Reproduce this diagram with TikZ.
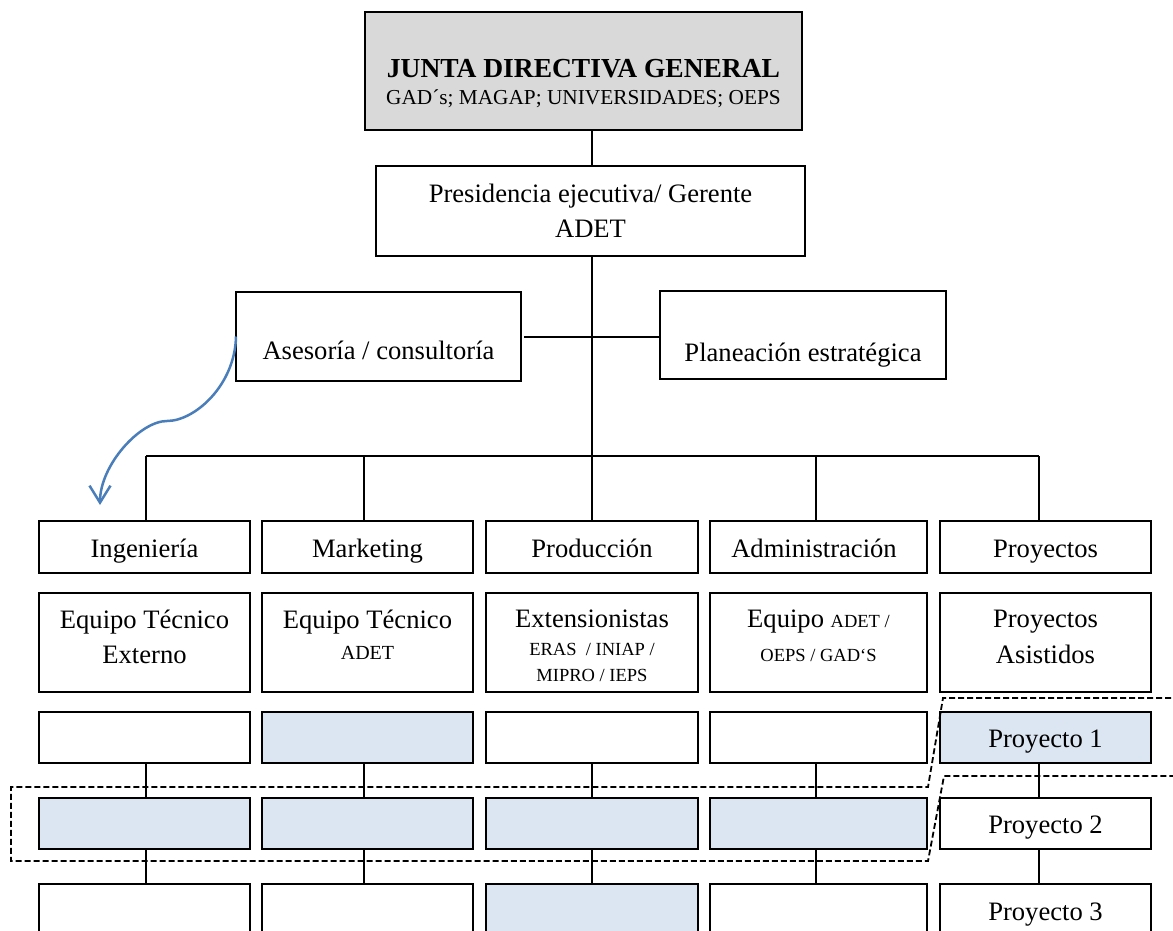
\documentclass[tikz,border=0pt]{standalone}
\usepackage{fontspec}
\setmainfont{Liberation Serif}
\usetikzlibrary{arrows.meta}

\definecolor{boxgray}{HTML}{D9D9D9}
\definecolor{boxblue}{HTML}{DCE6F2}
\definecolor{arrowblue}{HTML}{4A7EBB}

\newcommand{\bigtxt}{\fontsize{26.6}{31}\selectfont}
\newcommand{\headtxt}{\fontsize{27.5}{32}\selectfont}
\newcommand{\midtxt}{\fontsize{21.3}{25}\selectfont}
\newcommand{\smalltxt}{\fontsize{18.5}{22}\selectfont}
\newcommand{\adettxt}{\fontsize{20}{24}\selectfont}

\begin{document}
\begin{tikzpicture}[x=1pt, y=-1pt,
  box/.style={draw=black, line width=1.4pt, inner sep=0pt, outer sep=0pt},
  link/.style={draw=black, line width=2pt},
  frame/.style={draw=black, line width=1.8pt, dash pattern=on 6pt off 3pt},
  curvy/.style={draw=arrowblue, line width=2.5pt, -{Straight Barb[length=17pt,width=21pt]}},
  lbl/.style={anchor=base, inner sep=0pt, font=\bigtxt},
]
\useasboundingbox (0,0) rectangle (1173,931);
\clip (0,0) rectangle (1173,931);

% governing board
\node[box, fill=boxgray, minimum width=437pt, minimum height=118pt] (junta) at (583.5,71) {};
\node[lbl, font=\headtxt\bfseries] (junta-t) at (583.5,78) {JUNTA DIRECTIVA GENERAL};
\node[lbl, font=\midtxt] (junta-s) at (583.5,105) {GAD´s; MAGAP; UNIVERSIDADES; OEPS};

% executive presidency
\node[box, minimum width=429pt, minimum height=90pt] (pres) at (590.5,211) {};
\node[lbl] (pres-t) at (590.5,202) {Presidencia ejecutiva/ Gerente};
\node[lbl] (pres-s) at (590.5,237) {ADET};

% staff units
\node[box, minimum width=285pt, minimum height=89pt] (ases) at (378.5,336.5) {};
\node[lbl] (ases-t) at (378.5,359) {Asesoría / consultoría};
\node[box, minimum width=286pt, minimum height=88pt] (plan) at (803,335) {};
\node[lbl] (plan-t) at (803,361) {Planeación estratégica};

% columns: departments and their levels
\foreach \c/\x/\w/\bx/\fa/\fb/\fc in {
   1/144.5/211/146/white/boxblue/white,
   2/367.5/211/364/boxblue/boxblue/white,
   3/592/212/592/white/boxblue/boxblue,
   4/818.5/217/816/white/boxblue/white,
   5/1045.5/211/1039/boxblue/white/white}{
  \coordinate (b\c) at (\bx,456);
  \node[box, minimum width=\w pt, minimum height=52pt] (r1c\c) at (\x,547) {};
  \node[box, minimum width=\w pt, minimum height=99pt] (r2c\c) at (\x,642.5) {};
  \node[box, fill=\fa, minimum width=\w pt, minimum height=51pt] (r3c\c) at (\x,737.5) {};
  \node[box, fill=\fb, minimum width=\w pt, minimum height=51pt] (r4c\c) at (\x,823.5) {};
  \node[box, fill=\fc, minimum width=\w pt, minimum height=96pt] (r5c\c) at (\x,932) {};
  \draw[link] (b\c) -- (r1c\c.north -| b\c);
  \draw[link] (r3c\c.south -| b\c) -- (r4c\c.north -| b\c);
  \draw[link] (r4c\c.south -| b\c) -- (r5c\c.north -| b\c);
}

% trunk connectors
\draw[link] (junta.south -| b3) -- (pres.north -| b3);
\draw[link] (pres.south -| b3) -- (b3);
\draw[link] (b1) -- (b5);
\draw[link] ([xshift=3pt]ases.east) -- (plan.west |- ases.east);

% department titles
\node[lbl] (r1c1-t) at (144.5,557) {Ingeniería};
\node[lbl] (r1c2-t) at (367.5,557) {Marketing};
\node[lbl] (r1c3-t) at (592,557) {Producción};
\node[lbl] (r1c4-t) at (814,557) {Administración};
\node[lbl] (r1c5-t) at (1045.5,557) {Proyectos};

% teams
\node[lbl] (r2c1-a) at (144.5,628) {Equipo Técnico};
\node[lbl] (r2c1-b) at (144.5,663) {Externo};
\node[lbl] (r2c2-a) at (367.5,628) {Equipo Técnico};
\node[lbl, font=\adettxt] (r2c2-b) at (367.5,659) {ADET};
\node[lbl] (r2c3-a) at (592,627) {Extensionistas};
\node[lbl, font=\smalltxt] (r2c3-b) at (592,655) {ERAS \ / INIAP /};
\node[lbl, font=\smalltxt] (r2c3-c) at (592,681) {MIPRO / IEPS};
\node[lbl] (r2c4-a) at (818.5,627) {Equipo {\smalltxt ADET /}};
\node[lbl, font=\smalltxt] (r2c4-b) at (818.5,661) {OEPS / GAD‘S};
\node[lbl] (r2c5-a) at (1045.5,627) {Proyectos};
\node[lbl] (r2c5-b) at (1045.5,663) {Asistidos};

% projects
\node[lbl] (p1) at (1045.5,747) {Proyecto 1};
\node[lbl] (p2) at (1045.5,833) {Proyecto 2};
\node[lbl] (p3) at (1045.5,920) {Proyecto 3};

% grouping outline
\draw[frame] (1180,698) -- (943,698) -- (928,787) -- (11,787) -- (11,861)
  -- (928,861) -- (944,776) -- (1180,776);

% advisory arrow
\coordinate (tipend) at (100,505);
\draw[curvy] (ases.west) .. controls (235,385) and (195,421) .. (167,421)
  .. controls (140,421) and (100,465) .. (tipend);
\end{tikzpicture}
\end{document}
